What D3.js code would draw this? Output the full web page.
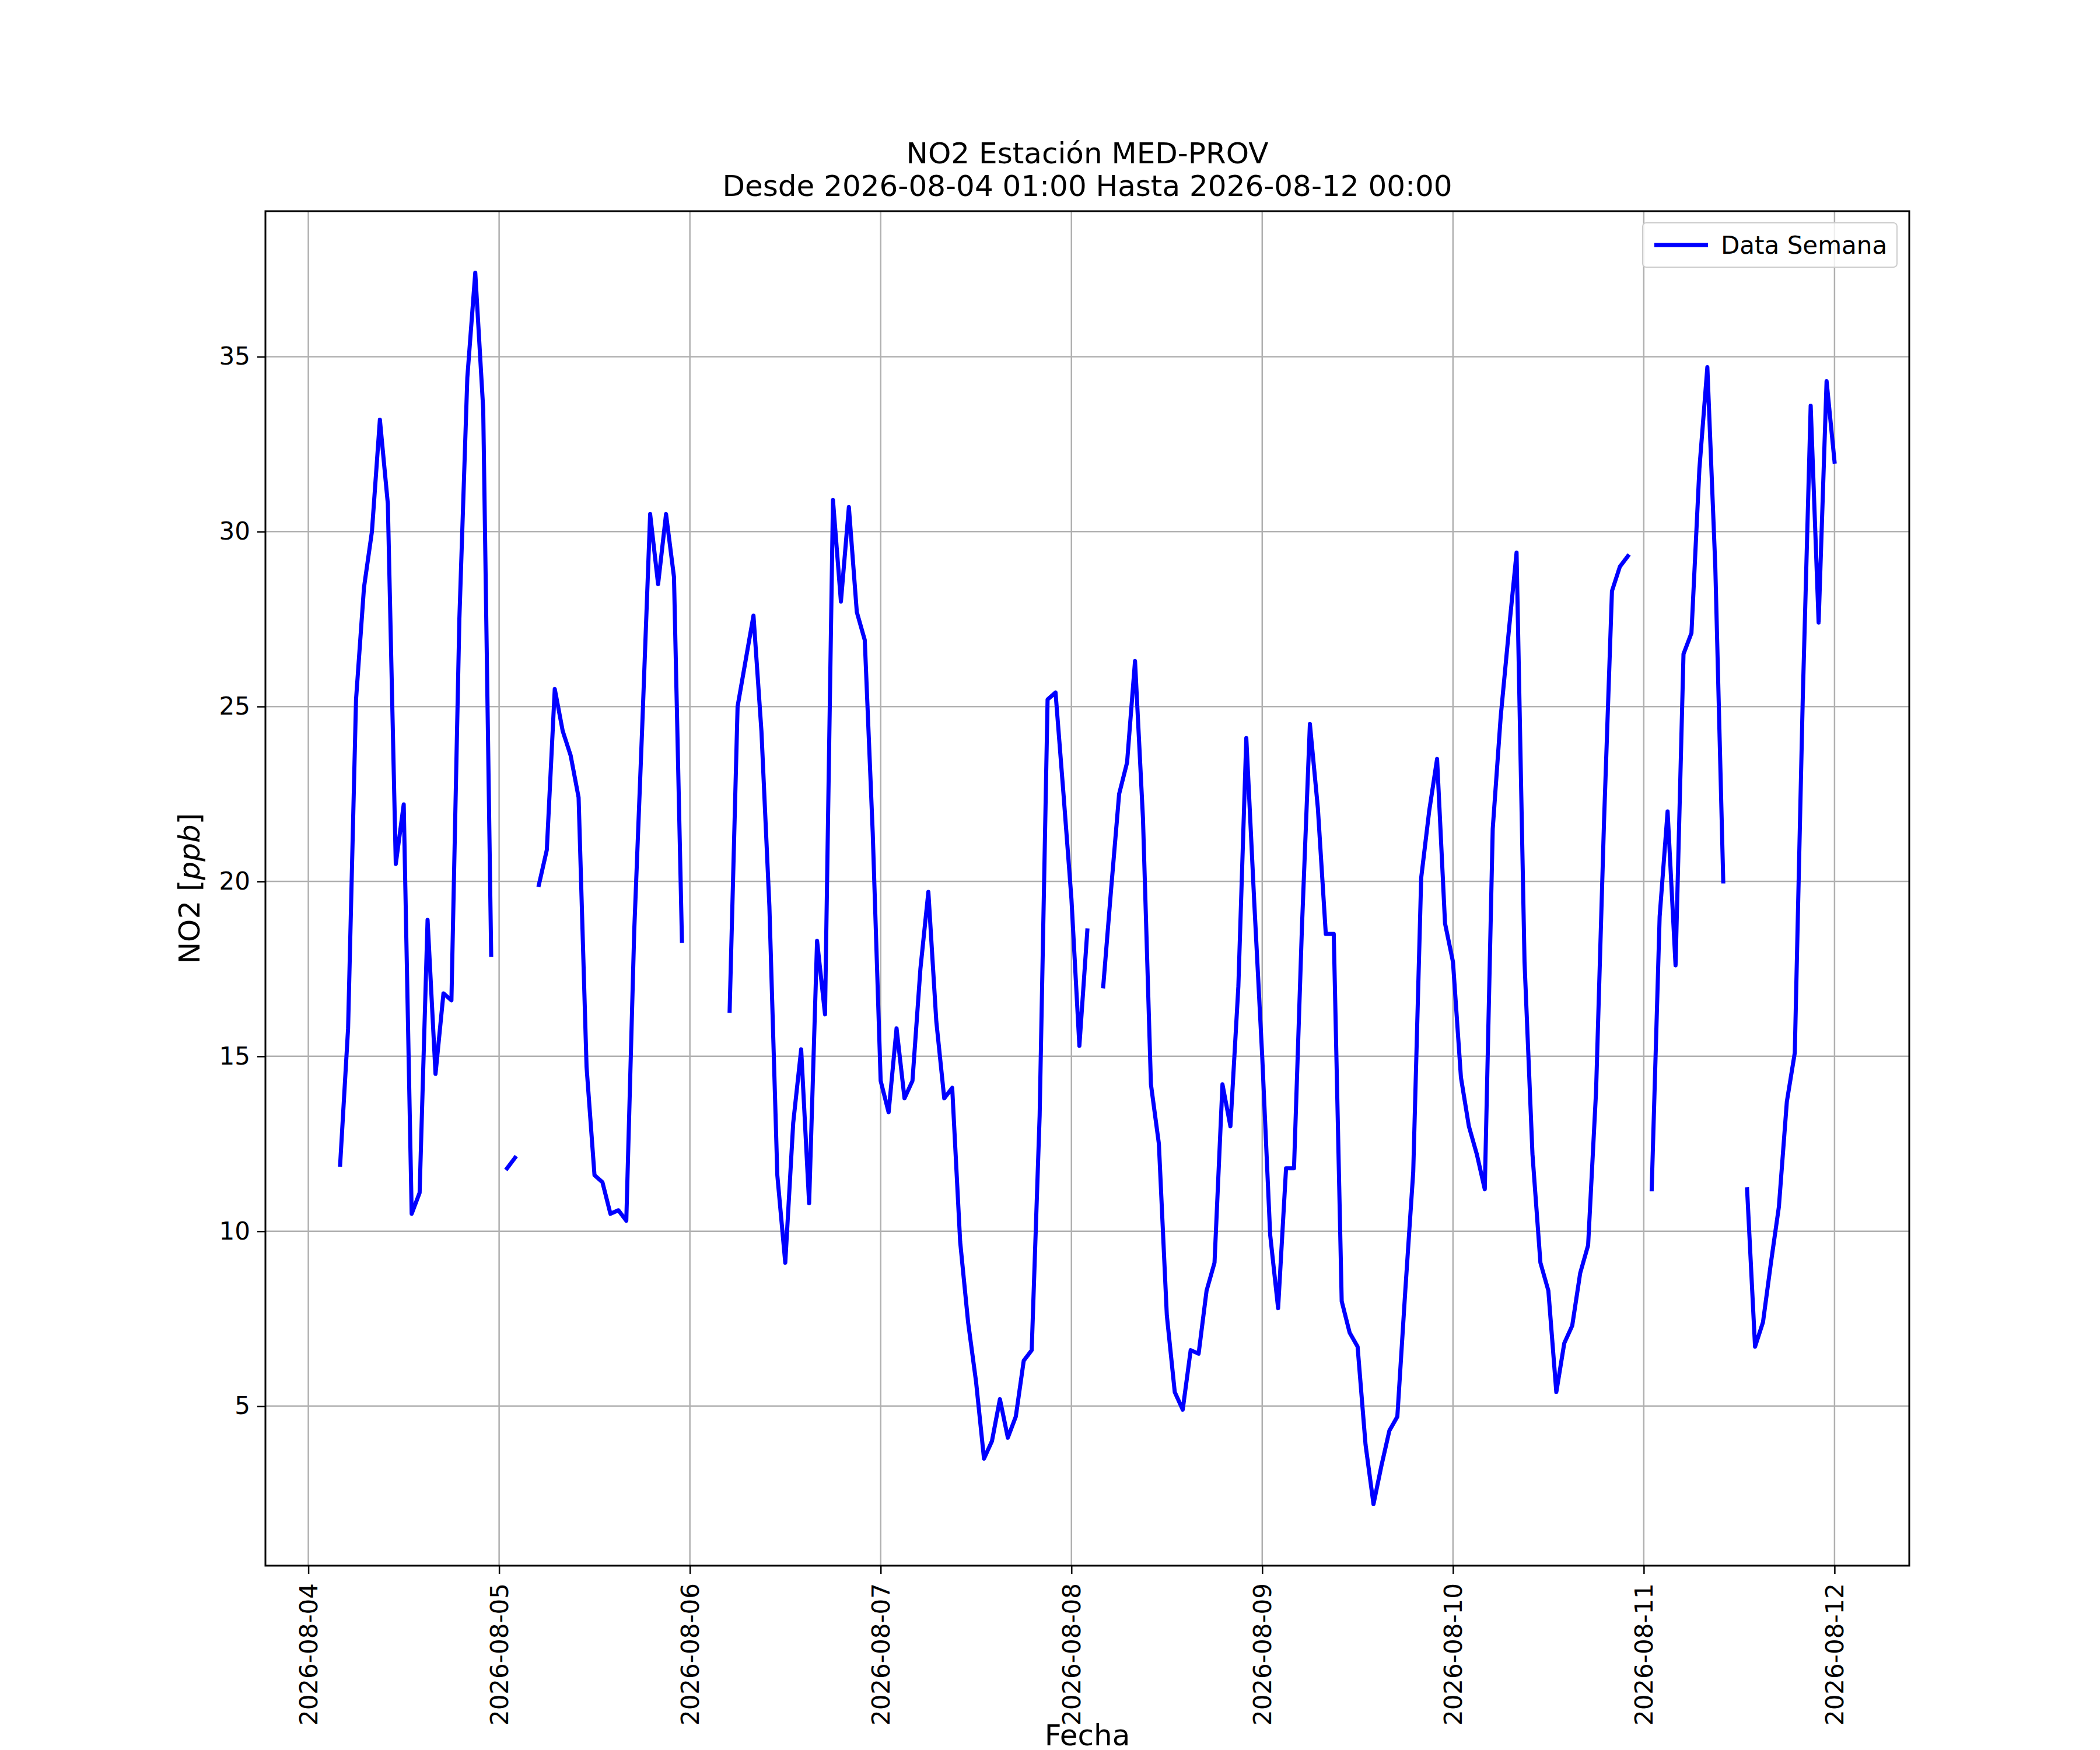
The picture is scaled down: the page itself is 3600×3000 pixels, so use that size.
<!DOCTYPE html>
<html>
<head>
<meta charset="utf-8"/>
<title>NO2 Estación MED-PROV</title>
<script src="https://d3js.org/d3.v7.min.js"></script>
<style>
  body { margin: 0; background: white; }
  text { font-family: "DejaVu Sans", sans-serif; }
</style>
</head>
<body>
<svg id="chart" width="3600" height="3000"></svg>
<script>
// hourly NO2 values from 2026-08-04 00:00 (index = hour), null = no data
var startDate = new Date(2026, 7, 4, 0, 0);
var no2 = [
  null, null, null, null, 11.9, 15.8, 25.2, 28.4, 30.0, 33.2, 30.8, 20.5,
  22.2, 10.5, 11.1, 18.9, 14.5, 16.8, 16.6, 27.5, 34.4, 37.4, 33.5, 17.9,
  null, 11.8, 12.1, null, null, 19.9, 20.9, 25.5, 24.3, 23.6, 22.4, 14.7,
  11.6, 11.4, 10.5, 10.6, 10.3, 18.6, 24.4, 30.5, 28.5, 30.5, 28.7, 18.3,
  null, null, null, null, null, 16.3, 25.0, 26.3, 27.6, 24.3, 19.3, 11.6,
  9.1, 13.1, 15.2, 10.8, 18.3, 16.2, 30.9, 28.0, 30.7, 27.7, 26.9, 21.4,
  14.3, 13.4, 15.8, 13.8, 14.3, 17.5, 19.7, 16.0, 13.8, 14.1, 9.7, 7.4,
  5.7, 3.5, 4.0, 5.2, 4.1, 4.7, 6.3, 6.6, 13.3, 25.2, 25.4, 22.5,
  19.5, 15.3, 18.6, null, 17.0, 19.8, 22.5, 23.4, 26.3, 21.8, 14.2, 12.5,
  7.6, 5.4, 4.9, 6.6, 6.5, 8.3, 9.1, 14.2, 13.0, 17.0, 24.1, 19.4,
  15.0, 9.9, 7.8, 11.8, 11.8, 18.7, 24.5, 22.1, 18.5, 18.5, 8.0, 7.1,
  6.7, 3.9, 2.2, 3.3, 4.3, 4.7, 8.3, 11.7, 20.1, 22.0, 23.5, 18.8,
  17.7, 14.4, 13.0, 12.2, 11.2, 21.5, 24.7, 27.1, 29.4, 17.7, 12.2, 9.1,
  8.3, 5.4, 6.8, 7.3, 8.8, 9.6, 14.0, 21.7, 28.3, 29.0, 29.3, null,
  null, 11.2, 19.0, 22.0, 17.6, 26.5, 27.1, 31.8, 34.7, 29.0, 20.0, null,
  null, 11.2, 6.7, 7.4, 9.1, 10.7, 13.7, 15.1, 25.2, 33.6, 27.4, 34.3,
  32.0
];
var yTicks = [5, 10, 15, 20, 25, 30, 35];
var xTickDays = ["2026-08-04", "2026-08-05", "2026-08-06", "2026-08-07", "2026-08-08",
                 "2026-08-09", "2026-08-10", "2026-08-11", "2026-08-12"];

var data = no2.map(function(v, i) {
  return { t: new Date(startDate.getTime() + i * 3600000), v: v };
});

var svg = d3.select("#chart");
var L = 455, R = 3273, T = 362, B = 2684;

var hour = 3600000;
var x = d3.scaleTime()
  .domain([new Date(startDate.getTime() - 5.4 * hour), new Date(startDate.getTime() + 201.4 * hour)])
  .range([L, R]);
var y = d3.scaleLinear().domain([0.44, 39.16]).range([B, T]);

var parse = d3.timeParse("%Y-%m-%d");
var xTicks = xTickDays.map(parse);

// grid
svg.append("g").selectAll("line").data(xTicks).enter().append("line")
  .attr("x1", d => x(d)).attr("x2", d => x(d)).attr("y1", T).attr("y2", B)
  .attr("stroke", "#b0b0b0").attr("stroke-width", 2.5);
svg.append("g").selectAll("line").data(yTicks).enter().append("line")
  .attr("y1", d => y(d)).attr("y2", d => y(d)).attr("x1", L).attr("x2", R)
  .attr("stroke", "#b0b0b0").attr("stroke-width", 2.5);

// line
var line = d3.line()
  .defined(d => d.v !== null)
  .x(d => x(d.t)).y(d => y(d.v));
svg.append("path").datum(data)
  .attr("d", line).attr("fill", "none")
  .attr("stroke", "blue").attr("stroke-width", 7)
  .attr("stroke-linejoin", "round").attr("stroke-linecap", "square");

// axes
var xAxis = svg.append("g").attr("transform", "translate(0," + B + ")")
  .call(d3.axisBottom(x).tickValues(xTicks).tickFormat(d3.timeFormat("%Y-%m-%d")).tickSizeInner(14).tickSizeOuter(0).tickPadding(10));
xAxis.selectAll("text")
  .attr("font-size", 42).attr("font-family", "DejaVu Sans").attr("fill", "black")
  .attr("transform", "rotate(-90)")
  .attr("text-anchor", "end").attr("dy", "0.35em")
  .attr("x", -30).attr("y", 0);
var yAxis = svg.append("g").attr("transform", "translate(" + L + ",0)")
  .call(d3.axisLeft(y).tickValues(yTicks).tickSizeInner(14).tickSizeOuter(0).tickPadding(12));
yAxis.selectAll("text").attr("font-size", 42).attr("font-family", "DejaVu Sans").attr("fill", "black");
svg.selectAll(".domain").remove();
svg.selectAll(".tick line").attr("stroke-width", 2.5);

// frame
svg.append("rect").attr("x", L).attr("y", T).attr("width", R - L).attr("height", B - T)
  .attr("fill", "none").attr("stroke", "black").attr("stroke-width", 3);

// titles
svg.append("text").attr("x", (L + R) / 2).attr("y", 280).attr("text-anchor", "middle")
  .attr("font-size", 50).text("NO2 Estación MED-PROV");
svg.append("text").attr("x", (L + R) / 2).attr("y", 336).attr("text-anchor", "middle")
  .attr("font-size", 50).text("Desde 2026-08-04 01:00 Hasta 2026-08-12 00:00");
svg.append("text").attr("x", (L + R) / 2).attr("y", 2992).attr("text-anchor", "middle")
  .attr("font-size", 50).text("Fecha");
var yl = svg.append("text").attr("transform", "translate(342," + (T + B) / 2 + ") rotate(-90)")
  .attr("text-anchor", "middle").attr("font-size", 50);
yl.append("tspan").text("NO2 [");
yl.append("tspan").attr("font-style", "italic").text("ppb");
yl.append("tspan").text("]");

// legend
var lg = svg.append("g").attr("transform", "translate(2816,382)");
lg.append("rect").attr("width", 436).attr("height", 76).attr("rx", 6)
  .attr("fill", "white").attr("fill-opacity", 0.8).attr("stroke", "#cccccc").attr("stroke-width", 2);
lg.append("line").attr("x1", 20).attr("x2", 112).attr("y1", 38).attr("y2", 38)
  .attr("stroke", "blue").attr("stroke-width", 7);
lg.append("text").attr("x", 134).attr("y", 53).attr("font-size", 42).text("Data Semana");
</script>
</body>
</html>
